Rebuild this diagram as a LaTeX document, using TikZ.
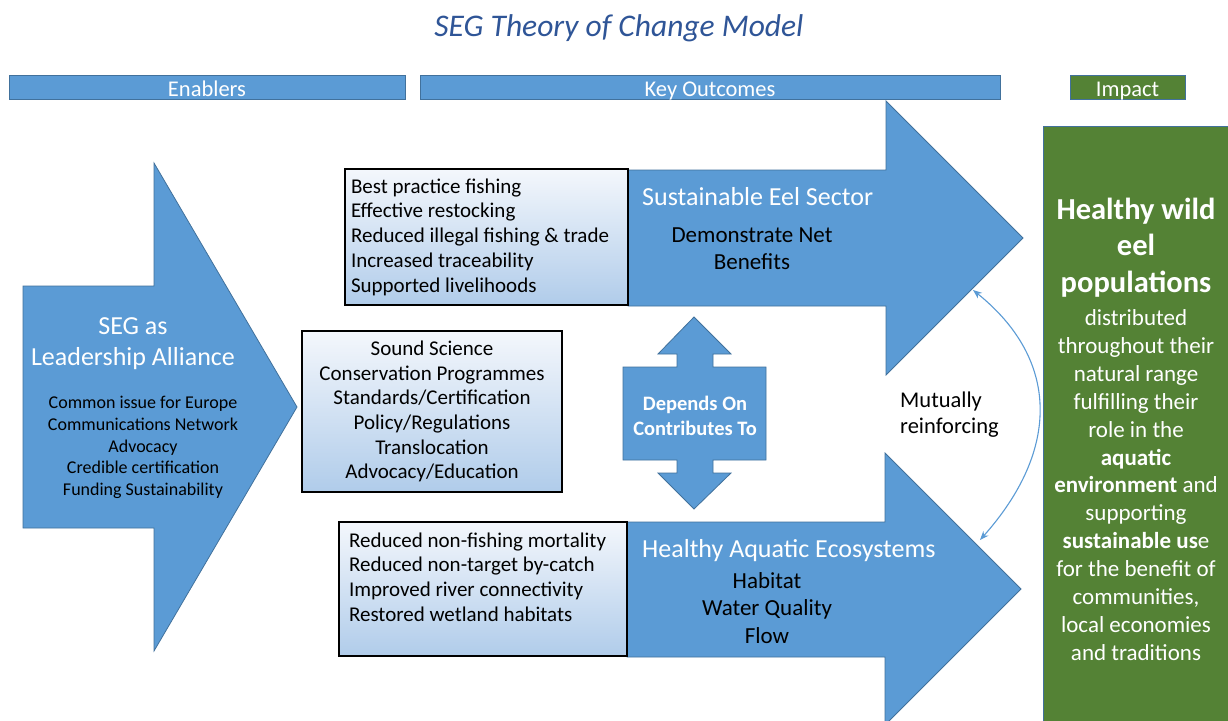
\documentclass[tikz,border=0pt]{standalone}
\usepackage{fontspec}
\setmainfont{Carlito}
\usepackage{xcolor}
\definecolor{segblue}{RGB}{91,155,213}
\definecolor{segedge}{RGB}{65,113,156}
\definecolor{impactgreen}{RGB}{84,130,53}
\definecolor{titleblue}{RGB}{47,85,151}
\definecolor{boxtop}{RGB}{244,247,252}
\definecolor{boxbottom}{RGB}{176,204,234}
\usetikzlibrary{positioning, arrows.meta}
\newcommand{\fsz}[2]{\fontsize{#1}{#2}\selectfont}

\begin{document}
\begin{tikzpicture}[
        x=1pt, y=-1pt,
        every node/.style={inner sep=0pt},
        header/.style={draw=segedge, line width=1pt, fill=segblue, minimum height=24pt, text=white, text height=20pt, text depth=2pt, font=\fsz{22.5}{27}},
        blockarrow/.style={draw=segedge, line width=0.8pt, fill=segblue},
        listbox/.style={draw=black, line width=1.2pt, top color=boxtop, bottom color=boxbottom, font=\fsz{21}{24.7}, inner xsep=6pt},
        whitetext/.style={text=white, font=\fsz{26}{31}},
        blacktext/.style={text=black, font=\fsz{23}{27.5}},
        reinforce/.style={<->, >={Stealth[length=9pt, width=7pt]}, draw=segblue, line width=1.1pt}
    ]

        \useasboundingbox (0,0) rectangle (1228,720);
        \fill[white] (0,0) rectangle (1228,720);

        \node[font=\itshape\fsz{31.5}{36}, text=titleblue] (title) at (619,28) {SEG Theory of Change Model};

        \node[header, minimum width=396pt] (enablers) at (207,87) {Enablers};
        \node[header, minimum width=580pt] (outcomes) at (710,87) {Key Outcomes};
        \node[header, fill=impactgreen, minimum width=115pt] (impact) at (1127.5,87) {Impact};

        \draw[blockarrow] (23,286) -- (154,286) -- (154,163) -- (297,407) -- (154,651) -- (154,528) -- (23,528) -- cycle;
        \draw[blockarrow] (628,170) -- (886,170) -- (886,101) -- (1023,238) -- (886,375) -- (886,306) -- (628,306) -- cycle;
        \draw[blockarrow] (627,522) -- (885,522) -- (885,453) -- (1021,589) -- (885,725) -- (885,657) -- (627,657) -- cycle;
        \draw[blockarrow] (694,317) -- (731,354) -- (713,354) -- (713,367) -- (766,367) -- (766,460) -- (713,460) -- (713,473) -- (731,473) -- (694,509) -- (658,473) -- (677,473) -- (677,460) -- (623,460) -- (623,367) -- (677,367) -- (677,354) -- (658,354) -- cycle;

        \node[whitetext, align=center] (seglead) at (133,344) {SEG as\\Leadership Alliance};
        \node[font=\fsz{18}{21.75}, align=center] (seglist) at (143,447.5) {Common issue for Europe\\Communications Network\\Advocacy\\Credible certification\\Funding Sustainability};

        \node[listbox, minimum width=283pt, minimum height=136pt, text width=271pt, align=flush left] (fishbox) at (486.5,237) {Best practice fishing\\Effective restocking\\Reduced illegal fishing \& trade\\Increased traceability\\Supported livelihoods};
        \node[listbox, minimum width=260pt, minimum height=161pt, align=center] (sciencebox) at (432,411.5) {Sound Science\\Conservation Programmes\\Standards/Certification\\Policy/Regulations\\Translocation\\Advocacy/Education};
        \node[listbox, inner xsep=10pt, minimum width=288pt, minimum height=134pt, text width=268pt, align=flush left] (habitatbox) at (483,589) {Reduced non-fishing mortality\\Reduced non-target by-catch\\Improved river connectivity\\Restored wetland habitats\\[-8pt]\strut};

        \node[whitetext, anchor=west] (eeltitle) at (642,197) {Sustainable Eel Sector};
        \node[blacktext, align=center] (eelnet) at (752,248.5) {Demonstrate Net\\Benefits};
        \node[whitetext, anchor=west] (ecotitle) at (642,551) {Healthy Aquatic Ecosystems};
        \node[blacktext, align=center] (ecolist) at (767,608) {Habitat\\Water Quality\\Flow};
        \node[text=white, font=\bfseries\fsz{20.5}{25}, align=center] (depends) at (695,415.5) {Depends On\\Contributes To};
        \node[font=\fsz{22.5}{26}, align=left, anchor=west] (mutual) at (900,415) {Mutually\\reinforcing};

        \coordinate (reinfA) at (973,290);
        \coordinate (reinfB) at (980,540);
        \draw[reinforce] (reinfA) .. controls (1060,360) and (1060,450) .. (reinfB);

        \node[draw=segedge, line width=1pt, fill=impactgreen, anchor=north west, minimum width=200pt, minimum height=610pt] (impactbox) at (1043,126) {};
        \node[text=white, font=\bfseries\fsz{30.5}{36.5}, align=center] (eelhead) at (1136,247.5) {Healthy wild\\eel\\populations};
        \node[text=white, font=\fsz{23}{27.9}, align=center] (eelbody) at (1136,485) {distributed\\throughout their\\natural range\\fulfilling their\\role in the\\\textbf{aquatic}\\\textbf{environment} and\\supporting\\\textbf{sustainable us}e\\for the benefit of\\communities,\\local economies\\and traditions};

    \end{tikzpicture}
\end{document}
